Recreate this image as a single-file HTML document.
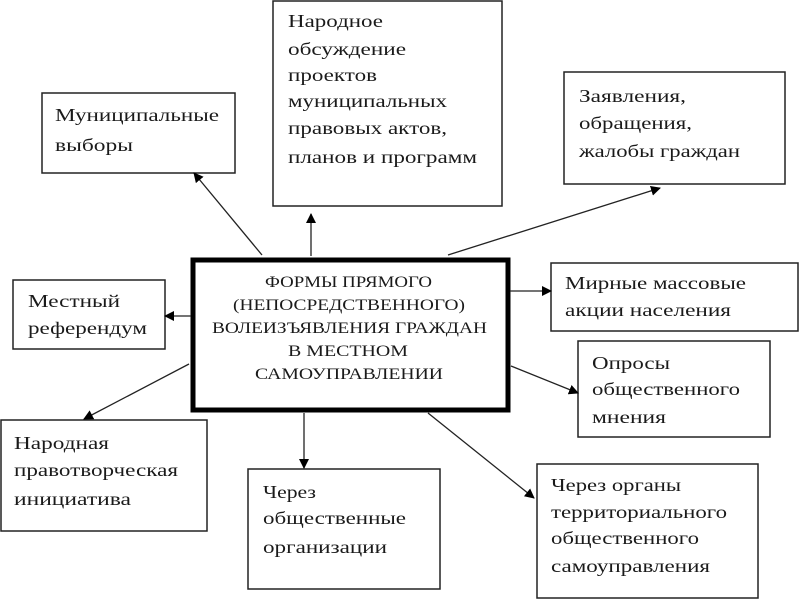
<!DOCTYPE html>
<html><head><meta charset="utf-8"><style>
html,body{margin:0;padding:0;background:#fff;}
svg{display:block}
text{font-family:"Liberation Serif",serif;font-size:18px;fill:#1a1a1a}
.c{font-size:16px}
</style></head><body>
<svg width="800" height="600" viewBox="0 0 800 600" xmlns="http://www.w3.org/2000/svg">
<defs><marker id="a" markerWidth="10" markerHeight="10" refX="9" refY="5" orient="auto" markerUnits="userSpaceOnUse"><path d="M0,0 L10,5 L0,10 z" fill="#000"/></marker></defs>
<g fill="none" stroke="#222" stroke-width="1.5">
<rect x="42" y="93" width="193" height="80"/>
<rect x="273" y="1" width="229" height="205"/>
<rect x="564" y="72" width="221" height="112"/>
<rect x="13" y="280" width="152" height="69"/>
<rect x="551" y="263" width="247" height="68"/>
<rect x="578" y="341" width="192" height="96"/>
<rect x="1" y="420" width="206" height="111"/>
<rect x="248" y="469" width="192" height="120"/>
<rect x="537" y="464" width="221" height="134"/>
</g>
<rect x="193" y="260" width="315" height="150" fill="none" stroke="#000" stroke-width="5"/>
<g stroke="#222" stroke-width="1.3" marker-end="url(#a)">
<line x1="262" y1="255" x2="194" y2="173"/>
<line x1="311" y1="256" x2="311" y2="214"/>
<line x1="448" y1="255" x2="660" y2="188"/>
<line x1="191" y1="316" x2="165" y2="316"/>
<line x1="510" y1="291" x2="551" y2="291"/>
<line x1="511" y1="366" x2="578" y2="393"/>
<line x1="304" y1="413" x2="304" y2="468"/>
<line x1="189" y1="364" x2="84" y2="419"/>
<line x1="428" y1="413" x2="534" y2="498"/>
</g>
<g lengthAdjust="spacingAndGlyphs">
<text x="288" y="27" textLength="95" lengthAdjust="spacingAndGlyphs">Народное</text>
<text x="288" y="55" textLength="118" lengthAdjust="spacingAndGlyphs">обсуждение</text>
<text x="288" y="81" textLength="89" lengthAdjust="spacingAndGlyphs">проектов</text>
<text x="288" y="107" textLength="159" lengthAdjust="spacingAndGlyphs">муниципальных</text>
<text x="288" y="134" textLength="159" lengthAdjust="spacingAndGlyphs">правовых актов,</text>
<text x="288" y="163" textLength="189" lengthAdjust="spacingAndGlyphs">планов и программ</text>

<text x="55" y="121" textLength="164" lengthAdjust="spacingAndGlyphs">Муниципальные</text>
<text x="55" y="151" textLength="78" lengthAdjust="spacingAndGlyphs">выборы</text>

<text x="579" y="102" textLength="107" lengthAdjust="spacingAndGlyphs">Заявления,</text>
<text x="579" y="129" textLength="113" lengthAdjust="spacingAndGlyphs">обращения,</text>
<text x="579" y="157" textLength="161" lengthAdjust="spacingAndGlyphs">жалобы граждан</text>

<text x="28" y="307" textLength="92" lengthAdjust="spacingAndGlyphs">Местный</text>
<text x="28" y="334" textLength="119" lengthAdjust="spacingAndGlyphs">референдум</text>

<text x="565" y="289" textLength="181" lengthAdjust="spacingAndGlyphs">Мирные массовые</text>
<text x="565" y="316" textLength="166" lengthAdjust="spacingAndGlyphs">акции населения</text>

<text x="592" y="369" textLength="78" lengthAdjust="spacingAndGlyphs">Опросы</text>
<text x="592" y="395" textLength="148" lengthAdjust="spacingAndGlyphs">общественного</text>
<text x="592" y="423" textLength="74" lengthAdjust="spacingAndGlyphs">мнения</text>

<text x="14" y="449" textLength="95" lengthAdjust="spacingAndGlyphs">Народная</text>
<text x="14" y="476" textLength="164" lengthAdjust="spacingAndGlyphs">правотворческая</text>
<text x="14" y="505" textLength="117" lengthAdjust="spacingAndGlyphs">инициатива</text>

<text x="263" y="498" textLength="53" lengthAdjust="spacingAndGlyphs">Через</text>
<text x="263" y="524" textLength="143" lengthAdjust="spacingAndGlyphs">общественные</text>
<text x="263" y="553" textLength="124" lengthAdjust="spacingAndGlyphs">организации</text>

<text x="551" y="491" textLength="130" lengthAdjust="spacingAndGlyphs">Через органы</text>
<text x="551" y="518" textLength="176" lengthAdjust="spacingAndGlyphs">территориального</text>
<text x="551" y="544" textLength="148" lengthAdjust="spacingAndGlyphs">общественного</text>
<text x="551" y="572" textLength="159" lengthAdjust="spacingAndGlyphs">самоуправления</text>

<text class="c" x="265" y="287" textLength="167" lengthAdjust="spacingAndGlyphs">ФОРМЫ ПРЯМОГО</text>
<text class="c" x="233" y="310" textLength="232" lengthAdjust="spacingAndGlyphs">(НЕПОСРЕДСТВЕННОГО)</text>
<text class="c" x="212" y="333" textLength="275" lengthAdjust="spacingAndGlyphs">ВОЛЕИЗЪЯВЛЕНИЯ ГРАЖДАН</text>
<text class="c" x="288" y="356" textLength="120" lengthAdjust="spacingAndGlyphs">В МЕСТНОМ</text>
<text class="c" x="255" y="379" textLength="188" lengthAdjust="spacingAndGlyphs">САМОУПРАВЛЕНИИ</text>
</g>
</svg>
</body></html>
